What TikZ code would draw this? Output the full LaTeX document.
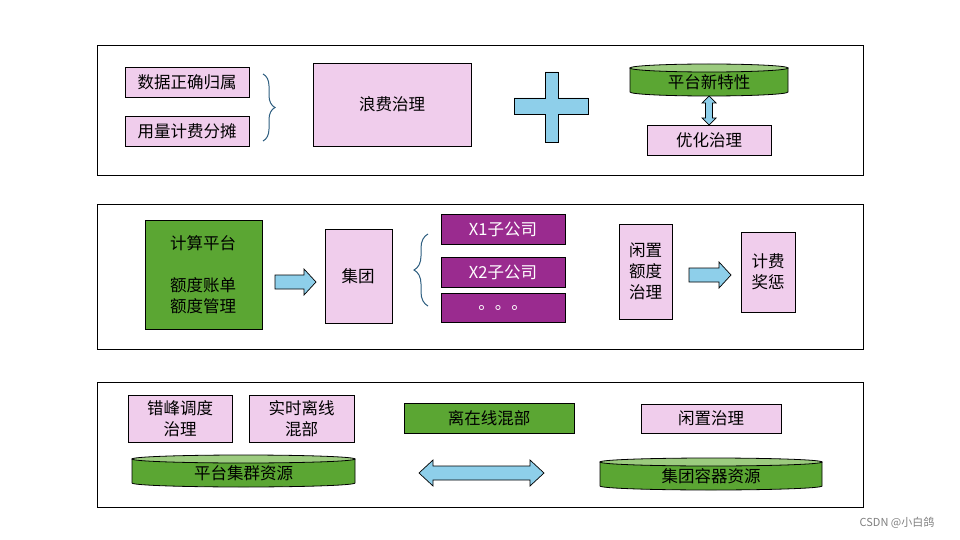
\documentclass[tikz,border=0pt]{standalone}
\usepackage{fontspec}
\setmainfont{Noto Sans CJK SC}
\usetikzlibrary{decorations.pathreplacing}
\definecolor{pk}{HTML}{F0CDEC}
\definecolor{gr}{HTML}{5BA633}
\definecolor{grl}{HTML}{9CCB7F}
\definecolor{pu}{HTML}{9A2B8F}
\definecolor{bl}{HTML}{8ECFEA}
\definecolor{br}{HTML}{2E5E80}
\begin{document}
\begin{tikzpicture}[x=1pt,y=-1pt,
 panel/.style={draw=black,line width=0.8pt},
 bx/.style={draw=black,line width=0.8pt,fill=pk},
 gbx/.style={draw=black,line width=0.8pt,fill=gr},
 pbx/.style={draw=black,line width=0.8pt,fill=pu},
 tx/.style={font=\fontsize{16.5}{21}\selectfont,align=center},
 wtx/.style={tx,text=white},
 arr/.style={draw=black,line width=0.7pt,fill=bl}]
\useasboundingbox (0,0) rectangle (960,540);
\fill[white] (0,0) rectangle (960,540);
\draw[panel] (97,45) rectangle (863,175);
\draw[panel] (97,204) rectangle (863,349);
\draw[panel] (97,382) rectangle (863,507);
\newcommand{\mycyl}[4]{%
 \pgfmathsetmacro{\cx}{(#1+#3)/2}\pgfmathsetmacro{\rx}{(#3-#1)/2}
 \draw[line width=0.8pt,fill=gr] (#1,#2+4) -- (#1,#4-4) arc[start angle=180,end angle=360,x radius=\rx,y radius=-4] -- (#3,#2+4) -- cycle;
 \draw[line width=0.8pt,fill=grl] (\cx,#2+4) ellipse[x radius=\rx,y radius=4];}
% top panel
\draw[bx] (125,67) rectangle (249,97); \node[tx] (a1) at (187,82) {数据正确归属};
\draw[bx] (125,116) rectangle (249,146); \node[tx] (a2) at (187,131) {用量计费分摊};
\draw[br,line width=1pt,decorate,decoration={brace,amplitude=12pt}] (263,74) -- (263,141);
\draw[bx] (313,63) rectangle (471,146); \node[tx] (a3) at (392,104) {浪费治理};
\draw[arr] (545,72) -- (558,72) -- (558,98) -- (588,98) -- (588,114) -- (558,114) -- (558,142) -- (545,142) -- (545,114) -- (514,114) -- (514,98) -- (545,98) -- cycle;
\mycyl{630}{64}{788}{96}
\node[tx] (c1) at (709,82) {平台新特性};
\draw[bx] (647,125) rectangle (771,155); \node[tx] (a4) at (709,140) {优化治理};
\draw[arr] (709,96) -- (716,103) -- (712.5,103) -- (712.5,118) -- (716,118) -- (709,125) -- (702,118) -- (705.5,118) -- (705.5,103) -- (702,103) -- cycle;
% middle
\draw[gbx] (145,220) rectangle (262,329);
\node[tx] (b1) at (203,243) {计算平台};
\node[tx] (b1b) at (203,296) {额度账单\\额度管理};
\draw[arr] (275,275) -- (304,275) -- (304,269) -- (316,282) -- (304,295) -- (304,289) -- (275,289) -- cycle;
\draw[bx] (325,229) rectangle (392,323); \node[tx] (b2) at (358,276) {集团};
\draw[br,line width=1pt,decorate,decoration={brace,amplitude=14pt}] (428,306) -- (428,234);
\draw[pbx] (441,214) rectangle (565,244); \node[wtx] (p1) at (503,229) {X1子公司};
\draw[pbx] (441,257) rectangle (565,287); \node[wtx] (p2) at (503,272) {X2子公司};
\draw[pbx] (441,293) rectangle (565,322); \node[wtx] (p3) at (503,308) {。。。};
\draw[bx] (619,224) rectangle (672,319); \node[tx] (b3) at (645.5,271.5) {闲置\\额度\\治理};
\draw[arr] (689,268) -- (719,268) -- (719,262) -- (731,275) -- (719,288) -- (719,282) -- (689,282) -- cycle;
\draw[bx] (741,232) rectangle (795,312); \node[tx] (b4) at (768,272) {计费\\奖惩};
% bottom
\draw[bx] (128,395) rectangle (232,442); \node[tx] (c2) at (180,418.5) {错峰调度\\治理};
\draw[bx] (249,395) rectangle (354,442); \node[tx] (c3) at (301.5,418.5) {实时离线\\混部};
\draw[gbx] (404,403) rectangle (574,433); \node[tx] (c4) at (489,418) {离在线混部};
\draw[bx] (641,404) rectangle (781,433); \node[tx] (c5) at (711,418.5) {闲置治理};
\mycyl{132}{455}{355}{487}
\node[tx] (c6) at (243.5,473) {平台集群资源};
\mycyl{600}{458}{822}{490}
\node[tx] (c7) at (711,476) {集团容器资源};
\draw[arr] (419,473) -- (433,460) -- (433,466) -- (530,466) -- (530,460) -- (544,473) -- (530,486) -- (530,480) -- (433,480) -- (433,486) -- cycle;
\node[font=\fontsize{11}{13}\selectfont,text=gray] (wm) at (897,523) {CSDN @小白鸽};
\end{tikzpicture}
\end{document}
